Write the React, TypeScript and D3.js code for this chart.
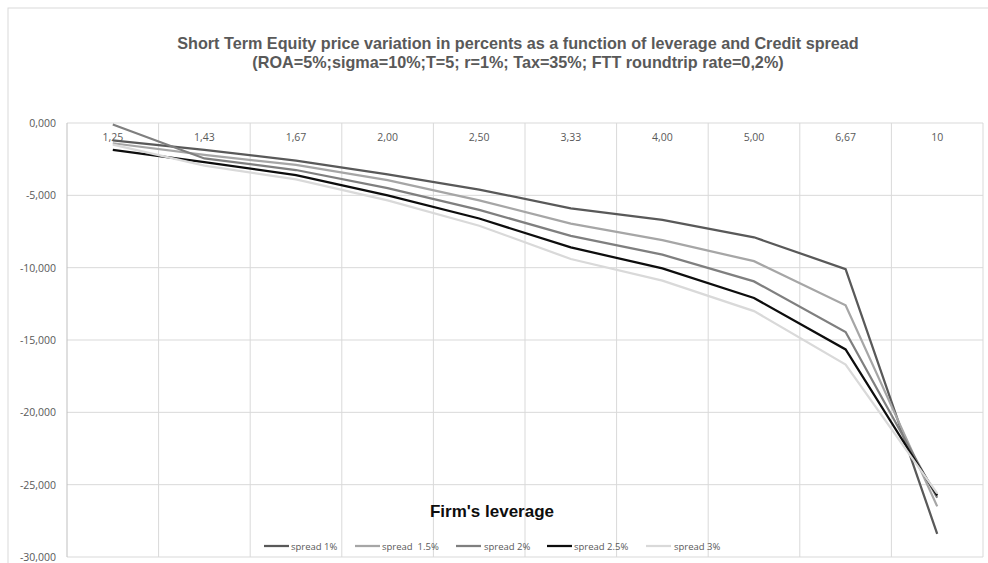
import React from "react";
import * as d3 from "d3";

const leverage = ["1,25", "1,43", "1,67", "2,00", "2,50", "3,33", "4,00", "5,00", "6,67", "10"];

const spread1 = [-1.2, -1.85, -2.6, -3.55, -4.6, -5.9, -6.7, -7.9, -10.1, -28.4];
const spread15 = [-1.4, -2.2, -2.9, -3.95, -5.35, -6.95, -8.1, -9.55, -12.6, -26.5];
const spread2 = [-0.1, -2.45, -3.25, -4.5, -6.0, -7.8, -9.1, -10.95, -14.45, -25.9];
const spread25 = [-1.85, -2.7, -3.6, -5.0, -6.6, -8.6, -10.05, -12.1, -15.65, -25.75];
const spread3 = [-1.5, -2.95, -3.9, -5.35, -7.1, -9.4, -10.9, -13.0, -16.7, -25.6];

const seriesNames = ["spread 1%", "spread  1.5%", "spread 2%", "spread 2.5%", "spread 3%"];
const seriesColors = ["#595959", "#a6a6a6", "#7f7f7f", "#0d0d0d", "#d9d9d9"];
const seriesValues = [spread1, spread15, spread2, spread25, spread3];

const yTicks = [0, -5, -10, -15, -20, -25, -30];

const W = 988;
const H = 563;
const plot = { left: 67, right: 983, top: 123, bottom: 557 };

export default function App() {
  const x = d3.scaleBand<string>().domain(leverage).range([plot.left, plot.right]);
  const y = d3.scaleLinear().domain([-30, 0]).range([plot.bottom, plot.top]);
  const fmt = (v: number) => d3.format(".3f")(v).replace("−", "-").replace(".", ",");

  const line = d3
    .line<number>()
    .x((_, i) => (x(leverage[i]) as number) + x.bandwidth() / 2)
    .y((d) => y(d));

  const legendItems = [
    { lx: 264, tx: 291 },
    { lx: 355, tx: 382 },
    { lx: 456, tx: 484 },
    { lx: 547, tx: 574 },
    { lx: 646, tx: 674 },
  ];

  return (
    <svg
      width={W}
      height={H}
      style={{ position: "absolute", left: 0, top: 0, background: "#fff" }}
      fontFamily="'Open Sans', sans-serif"
    >
      <rect x={8} y={8} width={W} height={H} fill="#fff" stroke="#d9d9d9" strokeWidth={1} />

      <text
        x={518}
        y={49}
        textAnchor="middle"
        fontFamily="'Liberation Sans Narrow', 'Liberation Sans', sans-serif"
        fontWeight="bold"
        fontSize={16.2}
        fill="#595959"
      >
        Short Term Equity price variation in percents as a function of leverage and Credit spread
      </text>
      <text
        x={518}
        y={68}
        textAnchor="middle"
        fontFamily="'Liberation Sans Narrow', 'Liberation Sans', sans-serif"
        fontWeight="bold"
        fontSize={16.2}
        fill="#595959"
      >
        (ROA=5%;sigma=10%;T=5; r=1%; Tax=35%; FTT roundtrip rate=0,2%)
      </text>

      {/* gridlines */}
      {yTicks.map((t) => (
        <line key={"h" + t} x1={plot.left} x2={plot.right} y1={y(t)} y2={y(t)} stroke="#d9d9d9" />
      ))}
      {leverage.map((c) => (
        <line
          key={"v" + c}
          x1={(x(c) as number) + x.bandwidth()}
          x2={(x(c) as number) + x.bandwidth()}
          y1={plot.top}
          y2={plot.bottom}
          stroke="#d9d9d9"
        />
      ))}
      <line x1={plot.left} x2={plot.left} y1={plot.top} y2={plot.bottom} stroke="#bfbfbf" />

      {yTicks.map((t) => (
        <text key={"yl" + t} x={56} y={y(t) + 4} textAnchor="end" fontSize={10.5} fill="#595959">
          {fmt(t)}
        </text>
      ))}
      {leverage.map((c) => (
        <text
          key={"xl" + c}
          x={(x(c) as number) + x.bandwidth() / 2}
          y={141}
          textAnchor="middle"
          fontSize={10.5}
          fill="#595959"
        >
          {c}
        </text>
      ))}

      {seriesValues.map((vals, i) => (
        <path key={seriesNames[i]} d={line(vals) ?? ""} fill="none" stroke={seriesColors[i]} strokeWidth={2.25} />
      ))}

      <text
        x={492}
        y={517}
        textAnchor="middle"
        fontFamily="'Liberation Sans', sans-serif"
        fontWeight="bold"
        fontSize={17}
        fill="#0d0d0d"
      >
        Firm's leverage
      </text>

      {legendItems.map((it, i) => (
        <g key={"lg" + i}>
          <line x1={it.lx} x2={it.lx + 25} y1={546} y2={546} stroke={seriesColors[i]} strokeWidth={2.25} />
          <text x={it.tx} y={549.5} fontSize={9.5} fill="#595959" style={{ whiteSpace: "pre" }}>
            {seriesNames[i]}
          </text>
        </g>
      ))}
    </svg>
  );
}
